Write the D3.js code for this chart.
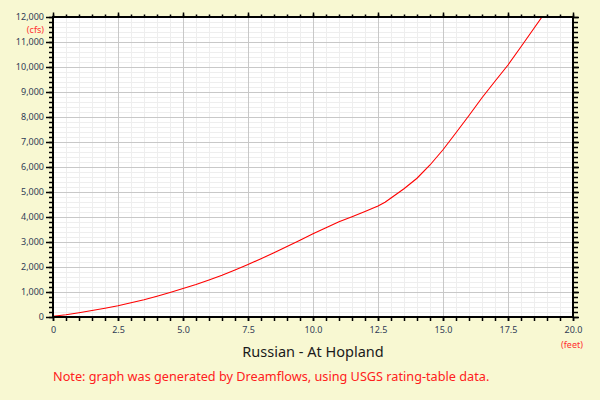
<!DOCTYPE html>
<html>
<head>
<meta charset="utf-8">
<script src="https://cdn.jsdelivr.net/npm/d3@7"></script>
<style>
  html, body { margin: 0; padding: 0; background: #F8F8D2; }
  svg { display: block; }
  text { font-family: "Noto Sans", "DejaVu Sans", sans-serif; }
</style>
</head>
<body>
<svg id="chart" width="600" height="400"></svg>
<script>
// ---- data ----
const stageFeet = [0, 0.5, 1, 1.5, 2, 2.5, 3, 3.5, 4, 4.5, 5, 5.5, 6, 6.5, 7, 7.5, 8, 8.5, 9, 9.5,
  10, 10.5, 11, 11.5, 12, 12.5, 12.77, 13, 13.5, 14, 14.5, 15, 15.5, 16, 16.5, 17, 17.5, 18, 18.5, 18.8];
const flowCfs = [30, 90, 170, 260, 350, 450, 570, 690, 830, 980, 1140, 1300, 1480, 1670, 1880, 2100, 2330, 2570, 2820, 3070,
  3330, 3570, 3810, 4010, 4220, 4440, 4590, 4760, 5130, 5550, 6080, 6690, 7370, 8060, 8770, 9430, 10080, 10810, 11550, 11990];
const xTicks = [0, 2.5, 5, 7.5, 10, 12.5, 15, 17.5, 20];
const yTicks = [0, 1000, 2000, 3000, 4000, 5000, 6000, 7000, 8000, 9000, 10000, 11000, 12000];
const xMinor = d3.range(0, 20.0001, 0.5);
const yMinor = d3.range(0, 12000.1, 200);
const titleText = "Russian - At Hopland";
const noteText = "Note: graph was generated by Dreamflows, using USGS rating-table data.";
const xUnit = "(feet)";
const yUnit = "(cfs)";

// ---- layout ----
const L = 53, R = 573, T = 17, B = 317;
const svg = d3.select("#chart");
svg.append("rect").attr("width", 600).attr("height", 400).attr("fill", "#F8F8D2");

const x = d3.scaleLinear().domain([0, 20]).range([L, R]);
const y = d3.scaleLinear().domain([0, 12000]).range([B, T]);

svg.append("rect").attr("x", L).attr("y", T).attr("width", R - L).attr("height", B - T).attr("fill", "#ffffff");

const grid = svg.append("g").attr("shape-rendering", "crispEdges");
// minor grid
grid.selectAll("line.vm").data(xMinor).join("line")
  .attr("x1", d => Math.round(x(d)) + 0.5).attr("x2", d => Math.round(x(d)) + 0.5)
  .attr("y1", T).attr("y2", B).attr("stroke", "#eeeeee");
grid.selectAll("line.hm").data(yMinor).join("line")
  .attr("y1", d => Math.round(y(d)) + 0.5).attr("y2", d => Math.round(y(d)) + 0.5)
  .attr("x1", L).attr("x2", R).attr("stroke", "#eeeeee");
// major grid
grid.selectAll("line.vM").data(xTicks).join("line")
  .attr("x1", d => Math.round(x(d)) + 0.5).attr("x2", d => Math.round(x(d)) + 0.5)
  .attr("y1", T).attr("y2", B).attr("stroke", "#c8c8c8");
grid.selectAll("line.hM").data(yTicks).join("line")
  .attr("y1", d => Math.round(y(d)) + 0.5).attr("y2", d => Math.round(y(d)) + 0.5)
  .attr("x1", L).attr("x2", R).attr("stroke", "#c8c8c8");

// curve
svg.append("clipPath").attr("id", "clip").append("rect")
  .attr("x", L).attr("y", T).attr("width", R - L).attr("height", B - T);
const line = d3.line().x((d, i) => x(stageFeet[i])).y(d => y(d));
svg.append("path").datum(flowCfs)
  .attr("clip-path", "url(#clip)")
  .attr("d", line).attr("fill", "none").attr("stroke", "#ff0000").attr("stroke-width", 1.1);

// axes
const labColor = "#2f3b55";
const xFmt = d => d === 0 ? "0" : d.toFixed(1);
const yFmt = d3.format(",");

function styleAxis(g) {
  g.selectAll(".domain").remove();
  g.selectAll("line").attr("stroke", "#000").attr("stroke-width", 1.5);
  g.selectAll("text").attr("fill", labColor).attr("font-size", 9);
}

// bottom
const gB = svg.append("g").attr("transform", `translate(0,${B})`);
gB.call(d3.axisBottom(x).tickValues(xMinor).tickSize(4).tickFormat(""));
styleAxis(gB);
const gB2 = svg.append("g").attr("transform", `translate(0,${B})`);
gB2.call(d3.axisBottom(x).tickValues(xTicks).tickSize(4).tickPadding(6).tickFormat(xFmt));
styleAxis(gB2);

// top
const gT = svg.append("g").attr("transform", `translate(0,${T})`);
gT.call(d3.axisTop(x).tickValues(xMinor).tickSize(2.5).tickFormat(""));
styleAxis(gT);
const gT2 = svg.append("g").attr("transform", `translate(0,${T})`);
gT2.call(d3.axisTop(x).tickValues(xTicks).tickSize(4.5).tickFormat(""));
styleAxis(gT2);

// left
const gL = svg.append("g").attr("transform", `translate(${L},0)`);
gL.call(d3.axisLeft(y).tickValues(yMinor).tickSize(4).tickFormat(""));
styleAxis(gL);
const gL2 = svg.append("g").attr("transform", `translate(${L},0)`);
gL2.call(d3.axisLeft(y).tickValues(yTicks).tickSize(7).tickPadding(2).tickFormat(yFmt));
styleAxis(gL2);

// right
const gR = svg.append("g").attr("transform", `translate(${R},0)`);
gR.call(d3.axisRight(y).tickValues(yMinor).tickSize(5).tickFormat(""));
styleAxis(gR);
const gR2 = svg.append("g").attr("transform", `translate(${R},0)`);
gR2.call(d3.axisRight(y).tickValues(yTicks).tickSize(6).tickFormat(""));
styleAxis(gR2);

// axis frame lines
const frame = svg.append("g").attr("stroke", "#000").attr("stroke-width", 2).attr("shape-rendering", "crispEdges");
frame.append("line").attr("x1", L - 1).attr("x2", R + 1).attr("y1", B).attr("y2", B);
frame.append("line").attr("x1", L - 1).attr("x2", R + 1).attr("y1", T).attr("y2", T);
frame.append("line").attr("x1", L).attr("x2", L).attr("y1", T - 1).attr("y2", B + 1);
frame.append("line").attr("x1", R).attr("x2", R).attr("y1", T - 1).attr("y2", B + 1);

// units
svg.append("text").attr("x", 44).attr("y", 33).attr("text-anchor", "end")
  .attr("font-size", 9).attr("fill", "#ff3030").text(yUnit);
svg.append("text").attr("x", 572).attr("y", 348).attr("text-anchor", "middle")
  .attr("font-size", 9).attr("fill", "#ff3030").text(xUnit);

// title
svg.append("text").attr("x", (L + R) / 2).attr("y", 357).attr("text-anchor", "middle")
  .attr("font-size", 14.5).attr("fill", "#1a1a1a").text(titleText);

// note
svg.append("text").attr("x", 53).attr("y", 381)
  .attr("font-size", 12.7).attr("fill", "#ff2020").text(noteText);
</script>
</body>
</html>
